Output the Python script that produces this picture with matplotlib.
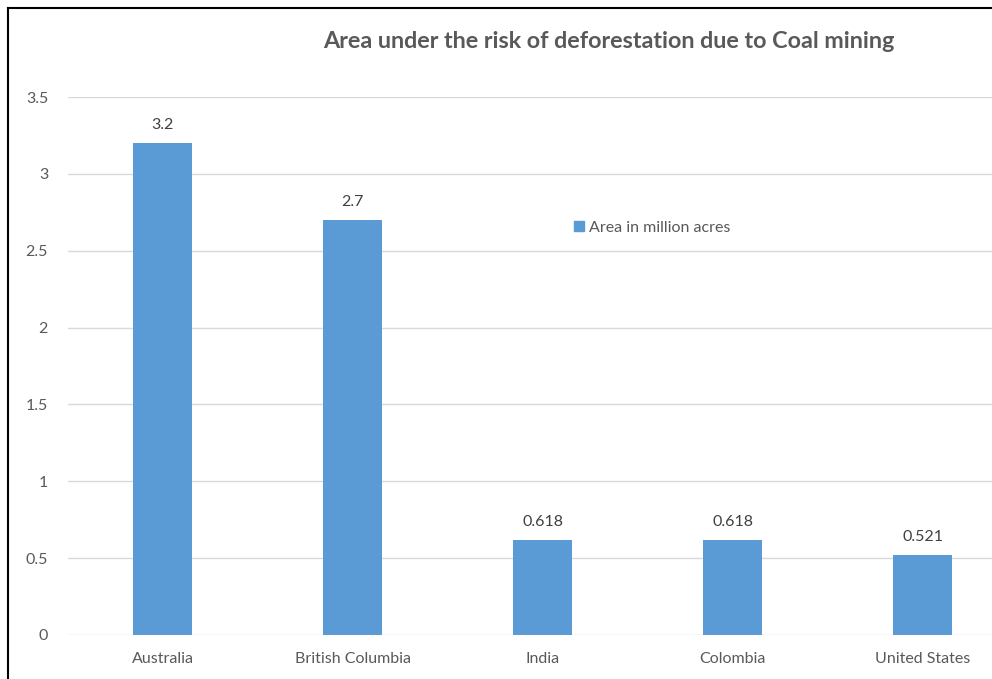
import matplotlib
matplotlib.use("Agg")
import matplotlib.pyplot as plt
from matplotlib.patches import Rectangle
from matplotlib.lines import Line2D

categories = ["Australia", "British Columbia", "India", "Colombia", "United States"]
values = [3.2, 2.7, 0.618, 0.618, 0.521]
value_labels = ["3.2", "2.7", "0.618", "0.618", "0.521"]
yticks = [0, 0.5, 1, 1.5, 2, 2.5, 3, 3.5]
ytick_labels = ["0", "0.5", "1", "1.5", "2", "2.5", "3", "3.5"]
title = "Area under the risk of deforestation due to Coal mining"
series_name = "Area in million acres"

plt.rcParams['font.family'] = ['Lato', 'DejaVu Sans']
text_color = "#595959"
bar_color = "#5B9BD5"

W, H = 992, 679
fig = plt.figure(figsize=(W/100, H/100), dpi=100)
fig.patch.set_facecolor("white")

left = 67.5 / W
right = 1018 / W
bottom = 1 - 635 / H
top = 1 - 97 / H
ax = fig.add_axes([left, bottom, right - left, top - bottom])

x = list(range(len(categories)))
ax.bar(x, values, width=0.31, color=bar_color, zorder=3, label=series_name)
ax.set_xlim(-0.5, len(categories) - 0.5)
ax.set_ylim(0, 3.5)
ax.set_yticks(yticks)
ax.set_yticklabels(ytick_labels)
ax.set_xticks(x)
ax.set_xticklabels(categories)
ax.grid(axis="y", color="#D9D9D9", linewidth=1, zorder=0)
for s in ax.spines.values():
    s.set_visible(False)
ax.tick_params(axis="both", length=0, colors=text_color, labelsize=11.5)
ax.tick_params(axis="y", pad=14)
ax.tick_params(axis="x", pad=12)

for xi, v, lab in zip(x, values, value_labels):
    ax.annotate(lab, (xi, v), xytext=(0, 8), textcoords="offset points",
                ha="center", va="bottom", fontsize=11.5, color="#404040")

fig.text(609 / W, 1 - 42 / H, title, ha="center", va="center",
         fontsize=16.8, fontweight="bold", color=text_color)

# legend
handle = Rectangle((0, 0), 1, 1, color=bar_color)
leg = fig.legend([handle], [series_name], loc="center left",
                 bbox_to_anchor=(560 / W, 1 - 228 / H), frameon=False,
                 fontsize=11.5, handlelength=0.6, handleheight=0.6,
                 handletextpad=0.3, labelcolor=text_color)

# outer border (top and left visible)
fig.add_artist(Line2D([8 / W, 8 / W], [0, 1 - 8 / H], transform=fig.transFigure,
                      color="black", linewidth=1.5))
fig.add_artist(Line2D([8 / W, 1], [1 - 8 / H, 1 - 8 / H], transform=fig.transFigure,
                      color="black", linewidth=1.5))

fig.savefig("out.png", dpi=100)
